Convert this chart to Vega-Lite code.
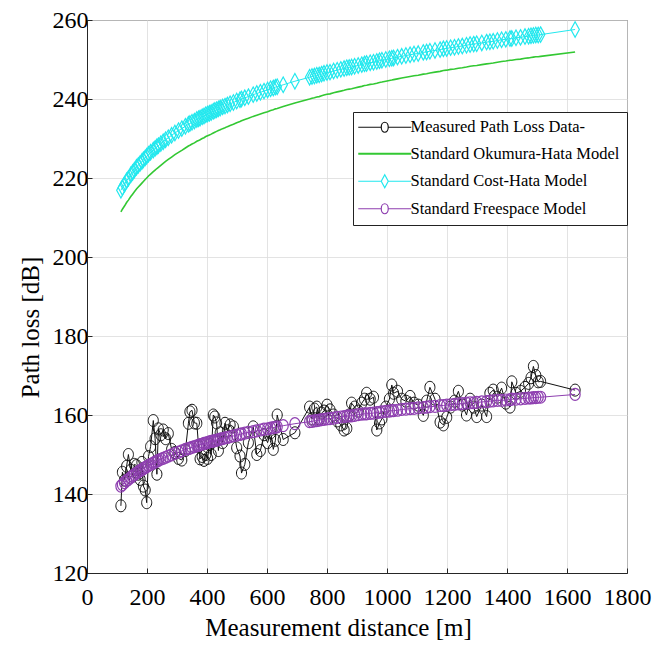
{
  "$schema": "https://vega.github.io/schema/vega-lite/v6.json",
  "width": 540,
  "height": 553,
  "autosize": {"type": "none"},
  "padding": {"left": 87, "top": 20, "right": 27, "bottom": 79},
  "background": "white",
  "config": {
    "view": {"stroke": "#262626", "strokeWidth": 1},
    "font": "Liberation Serif",
    "axis": {
      "labelFont": "Liberation Serif",
      "labelFontSize": 24,
      "labelColor": "#000000",
      "titleFont": "Liberation Serif",
      "titleFontSize": 25,
      "titleFontWeight": "normal",
      "titleColor": "#000000",
      "gridColor": "#DCDCDC",
      "gridWidth": 0.8,
      "domainColor": "#262626",
      "tickColor": "#262626",
      "tickSize": -5
    }
  },
  "data": {"values": [
    {"d":113,"m":137.0,"oh":211.4,"ch":216.9,"fs":142.0},
    {"d":118,"m":145.5,"oh":212.1,"ch":217.6,"fs":142.4},
    {"d":125,"m":143.5,"oh":212.9,"ch":218.4,"fs":142.9},
    {"d":132,"m":147.0,"oh":213.8,"ch":219.3,"fs":143.4},
    {"d":138,"m":150.0,"oh":214.4,"ch":219.9,"fs":143.7},
    {"d":146,"m":146.0,"oh":215.3,"ch":220.8,"fs":144.2},
    {"d":152,"m":144.5,"oh":215.9,"ch":221.4,"fs":144.6},
    {"d":158,"m":147.5,"oh":216.5,"ch":222.0,"fs":144.9},
    {"d":165,"m":147.2,"oh":217.2,"ch":222.7,"fs":145.3},
    {"d":171,"m":145.0,"oh":217.7,"ch":223.2,"fs":145.6},
    {"d":177,"m":143.7,"oh":218.2,"ch":223.7,"fs":145.9},
    {"d":183,"m":148.0,"oh":218.7,"ch":224.2,"fs":146.2},
    {"d":188,"m":142.0,"oh":219.1,"ch":224.6,"fs":146.4},
    {"d":194,"m":141.0,"oh":219.6,"ch":225.1,"fs":146.7},
    {"d":199,"m":137.8,"oh":220.0,"ch":225.5,"fs":146.9},
    {"d":205,"m":149.5,"oh":220.5,"ch":226.0,"fs":147.2},
    {"d":212,"m":152.0,"oh":221.0,"ch":226.5,"fs":147.5},
    {"d":221,"m":158.6,"oh":221.6,"ch":227.1,"fs":147.8},
    {"d":227,"m":154.0,"oh":222.0,"ch":227.5,"fs":148.1},
    {"d":233,"m":145.0,"oh":222.4,"ch":227.9,"fs":148.3},
    {"d":238,"m":156.5,"oh":222.7,"ch":228.2,"fs":148.5},
    {"d":246,"m":155.0,"oh":223.2,"ch":228.7,"fs":148.8},
    {"d":254,"m":156.2,"oh":223.7,"ch":229.2,"fs":149.0},
    {"d":262,"m":154.0,"oh":224.2,"ch":229.7,"fs":149.3},
    {"d":271,"m":155.3,"oh":224.7,"ch":230.2,"fs":149.6},
    {"d":282,"m":151.3,"oh":225.3,"ch":230.8,"fs":149.9},
    {"d":293,"m":150.5,"oh":225.9,"ch":231.4,"fs":150.3},
    {"d":305,"m":149.0,"oh":226.5,"ch":232.0,"fs":150.6},
    {"d":316,"m":148.6,"oh":227.0,"ch":232.5,"fs":150.9},
    {"d":328,"m":151.0,"oh":227.6,"ch":233.1,"fs":151.3},
    {"d":338,"m":157.9,"oh":228.1,"ch":233.6,"fs":151.5},
    {"d":343,"m":160.8,"oh":228.3,"ch":233.8,"fs":151.6},
    {"d":350,"m":161.2,"oh":228.6,"ch":234.1,"fs":151.8},
    {"d":358,"m":158.0,"oh":228.9,"ch":234.4,"fs":152.0},
    {"d":366,"m":157.9,"oh":229.3,"ch":234.8,"fs":152.2},
    {"d":372,"m":152.0,"oh":229.5,"ch":235.0,"fs":152.3},
    {"d":377,"m":148.9,"oh":229.7,"ch":235.2,"fs":152.5},
    {"d":384,"m":149.5,"oh":230.0,"ch":235.5,"fs":152.6},
    {"d":390,"m":148.5,"oh":230.2,"ch":235.7,"fs":152.8},
    {"d":396,"m":150.0,"oh":230.5,"ch":236.0,"fs":152.9},
    {"d":402,"m":149.0,"oh":230.7,"ch":236.2,"fs":153.0},
    {"d":408,"m":152.5,"oh":230.9,"ch":236.4,"fs":153.2},
    {"d":414,"m":150.0,"oh":231.1,"ch":236.6,"fs":153.3},
    {"d":421,"m":160.0,"oh":231.4,"ch":236.9,"fs":153.4},
    {"d":426,"m":159.5,"oh":231.6,"ch":237.1,"fs":153.5},
    {"d":432,"m":158.0,"oh":231.8,"ch":237.3,"fs":153.6},
    {"d":438,"m":151.0,"oh":232.0,"ch":237.5,"fs":153.8},
    {"d":444,"m":155.5,"oh":232.2,"ch":237.7,"fs":153.9},
    {"d":452,"m":153.0,"oh":232.5,"ch":238.0,"fs":154.0},
    {"d":460,"m":157.9,"oh":232.7,"ch":238.2,"fs":154.2},
    {"d":468,"m":156.0,"oh":233.0,"ch":238.5,"fs":154.3},
    {"d":477,"m":157.5,"oh":233.3,"ch":238.8,"fs":154.5},
    {"d":488,"m":157.0,"oh":233.6,"ch":239.1,"fs":154.7},
    {"d":499,"m":151.7,"oh":234.0,"ch":239.5,"fs":154.9},
    {"d":510,"m":149.6,"oh":234.3,"ch":239.8,"fs":155.1},
    {"d":515,"m":145.3,"oh":234.5,"ch":240.0,"fs":155.2},
    {"d":526,"m":147.5,"oh":234.8,"ch":240.3,"fs":155.4},
    {"d":538,"m":153.0,"oh":235.1,"ch":240.6,"fs":155.6},
    {"d":554,"m":157.0,"oh":235.6,"ch":241.1,"fs":155.8},
    {"d":566,"m":150.0,"oh":235.9,"ch":241.4,"fs":156.0},
    {"d":578,"m":151.0,"oh":236.2,"ch":241.7,"fs":156.2},
    {"d":590,"m":155.0,"oh":236.5,"ch":242.0,"fs":156.4},
    {"d":602,"m":153.0,"oh":236.8,"ch":242.3,"fs":156.5},
    {"d":612,"m":155.5,"oh":237.1,"ch":242.6,"fs":156.7},
    {"d":621,"m":151.3,"oh":237.3,"ch":242.8,"fs":156.8},
    {"d":628,"m":153.6,"oh":237.5,"ch":243.0,"fs":156.9},
    {"d":634,"m":160.0,"oh":237.6,"ch":243.1,"fs":157.0},
    {"d":654,"m":153.8,"oh":238.1,"ch":243.6,"fs":157.3},
    {"d":693,"m":155.5,"oh":239.0,"ch":244.5,"fs":157.8},
    {"d":742,"m":162.0,"oh":240.0,"ch":245.5,"fs":158.3},
    {"d":750,"m":159.0,"oh":240.2,"ch":245.7,"fs":158.4},
    {"d":758,"m":161.5,"oh":240.3,"ch":245.8,"fs":158.5},
    {"d":766,"m":162.0,"oh":240.5,"ch":246.0,"fs":158.6},
    {"d":774,"m":159.0,"oh":240.6,"ch":246.1,"fs":158.7},
    {"d":782,"m":160.5,"oh":240.8,"ch":246.3,"fs":158.8},
    {"d":790,"m":161.0,"oh":241.0,"ch":246.5,"fs":158.9},
    {"d":800,"m":162.5,"oh":241.2,"ch":246.7,"fs":159.0},
    {"d":810,"m":161.3,"oh":241.3,"ch":246.8,"fs":159.1},
    {"d":822,"m":160.0,"oh":241.6,"ch":247.1,"fs":159.2},
    {"d":834,"m":158.5,"oh":241.8,"ch":247.3,"fs":159.4},
    {"d":846,"m":157.5,"oh":242.0,"ch":247.5,"fs":159.5},
    {"d":857,"m":156.2,"oh":242.2,"ch":247.7,"fs":159.6},
    {"d":866,"m":156.6,"oh":242.4,"ch":247.9,"fs":159.7},
    {"d":874,"m":160.0,"oh":242.5,"ch":248.0,"fs":159.8},
    {"d":882,"m":163.0,"oh":242.6,"ch":248.1,"fs":159.8},
    {"d":892,"m":162.0,"oh":242.8,"ch":248.3,"fs":159.9},
    {"d":904,"m":161.0,"oh":243.0,"ch":248.5,"fs":160.1},
    {"d":916,"m":163.0,"oh":243.2,"ch":248.7,"fs":160.2},
    {"d":925,"m":164.0,"oh":243.4,"ch":248.9,"fs":160.3},
    {"d":932,"m":165.5,"oh":243.5,"ch":249.0,"fs":160.3},
    {"d":944,"m":164.0,"oh":243.7,"ch":249.2,"fs":160.4},
    {"d":955,"m":164.5,"oh":243.8,"ch":249.3,"fs":160.5},
    {"d":966,"m":156.2,"oh":244.0,"ch":249.5,"fs":160.6},
    {"d":975,"m":158.0,"oh":244.2,"ch":249.7,"fs":160.7},
    {"d":983,"m":159.0,"oh":244.3,"ch":249.8,"fs":160.8},
    {"d":996,"m":162.0,"oh":244.5,"ch":250.0,"fs":160.9},
    {"d":1008,"m":164.0,"oh":244.7,"ch":250.2,"fs":161.0},
    {"d":1016,"m":167.6,"oh":244.8,"ch":250.3,"fs":161.1},
    {"d":1022,"m":165.5,"oh":244.9,"ch":250.4,"fs":161.1},
    {"d":1035,"m":166.0,"oh":245.1,"ch":250.6,"fs":161.2},
    {"d":1049,"m":164.0,"oh":245.3,"ch":250.8,"fs":161.4},
    {"d":1063,"m":163.5,"oh":245.5,"ch":251.0,"fs":161.5},
    {"d":1077,"m":164.7,"oh":245.7,"ch":251.2,"fs":161.6},
    {"d":1090,"m":163.0,"oh":245.9,"ch":251.4,"fs":161.7},
    {"d":1104,"m":162.5,"oh":246.0,"ch":251.5,"fs":161.8},
    {"d":1121,"m":159.9,"oh":246.3,"ch":251.8,"fs":161.9},
    {"d":1132,"m":163.5,"oh":246.4,"ch":251.9,"fs":162.0},
    {"d":1143,"m":167.0,"oh":246.6,"ch":252.1,"fs":162.1},
    {"d":1160,"m":164.0,"oh":246.8,"ch":252.3,"fs":162.2},
    {"d":1177,"m":158.2,"oh":247.0,"ch":252.5,"fs":162.4},
    {"d":1188,"m":157.5,"oh":247.2,"ch":252.7,"fs":162.4},
    {"d":1199,"m":159.4,"oh":247.3,"ch":252.8,"fs":162.5},
    {"d":1212,"m":162.0,"oh":247.5,"ch":253.0,"fs":162.6},
    {"d":1225,"m":163.5,"oh":247.6,"ch":253.1,"fs":162.7},
    {"d":1238,"m":166.0,"oh":247.8,"ch":253.3,"fs":162.8},
    {"d":1251,"m":162.5,"oh":247.9,"ch":253.4,"fs":162.9},
    {"d":1265,"m":160.0,"oh":248.1,"ch":253.6,"fs":163.0},
    {"d":1277,"m":164.0,"oh":248.3,"ch":253.8,"fs":163.1},
    {"d":1289,"m":162.0,"oh":248.4,"ch":253.9,"fs":163.1},
    {"d":1299,"m":159.6,"oh":248.5,"ch":254.0,"fs":163.2},
    {"d":1316,"m":162.5,"oh":248.7,"ch":254.2,"fs":163.3},
    {"d":1332,"m":159.6,"oh":248.9,"ch":254.4,"fs":163.4},
    {"d":1343,"m":165.5,"oh":249.0,"ch":254.5,"fs":163.5},
    {"d":1354,"m":166.3,"oh":249.1,"ch":254.6,"fs":163.6},
    {"d":1368,"m":164.5,"oh":249.3,"ch":254.8,"fs":163.7},
    {"d":1382,"m":166.8,"oh":249.5,"ch":255.0,"fs":163.7},
    {"d":1396,"m":163.0,"oh":249.6,"ch":255.1,"fs":163.8},
    {"d":1410,"m":162.0,"oh":249.8,"ch":255.3,"fs":163.9},
    {"d":1416,"m":168.4,"oh":249.8,"ch":255.3,"fs":164.0},
    {"d":1430,"m":165.5,"oh":250.0,"ch":255.5,"fs":164.0},
    {"d":1445,"m":166.0,"oh":250.1,"ch":255.6,"fs":164.1},
    {"d":1460,"m":167.0,"oh":250.3,"ch":255.8,"fs":164.2},
    {"d":1472,"m":168.0,"oh":250.4,"ch":255.9,"fs":164.3},
    {"d":1480,"m":169.4,"oh":250.5,"ch":256.0,"fs":164.3},
    {"d":1488,"m":172.3,"oh":250.6,"ch":256.1,"fs":164.4},
    {"d":1496,"m":170.0,"oh":250.7,"ch":256.2,"fs":164.4},
    {"d":1504,"m":168.4,"oh":250.7,"ch":256.2,"fs":164.5},
    {"d":1512,"m":168.5,"oh":250.8,"ch":256.3,"fs":164.5},
    {"d":1627,"m":166.3,"oh":251.9,"ch":257.6,"fs":165.2}
  ]},
  "encoding": {
    "x": {
      "field": "d",
      "type": "quantitative",
      "scale": {"domain": [0, 1800], "nice": false},
      "axis": {
        "title": "Measurement distance [m]",
        "values": [0, 200, 400, 600, 800, 1000, 1200, 1400, 1600, 1800],
        "format": "d",
        "labelFont": "Liberation Serif",
        "labelFontSize": 24,
        "titleFont": "Liberation Serif",
        "labelPadding": 17,
        "titlePadding": 6,
        "titleX": 251,
        "labelFlush": false
      }
    }
  },
  "layer": [
    {
      "mark": {"type": "line", "strokeWidth": 1, "clip": true},
      "encoding": {
        "y": {
          "field": "m",
          "type": "quantitative",
          "title": "Path loss [dB]",
          "scale": {"domain": [120, 260], "nice": false},
          "axis": {
            "values": [120, 140, 160, 180, 200, 220, 240, 260],
            "format": "d",
            "labelFont": "Liberation Serif",
            "labelFontSize": 24,
            "titleFont": "Liberation Serif",
            "labelPadding": 4,
            "titlePadding": 9,
            "titleY": 307,
            "labelFlush": false
          }
        },
        "color": {
          "datum": "m",
          "type": "nominal",
          "scale": {
            "domain": ["m", "oh", "ch", "fs"],
            "range": ["#111111", "#33C833", "#22E8EE", "#8E3FB0"]
          },
          "legend": {
            "title": null,
            "orient": "none",
            "legendX": 266,
            "legendY": 92,
            "labelExpr": "{'m':'Measured Path Loss Data-','oh':'Standard Okumura-Hata Model','ch':'Standard Cost-Hata Model','fs':'Standard Freespace Model'}[datum.label]",
            "labelFont": "Liberation Serif",
            "labelFontSize": 16.5,
            "labelColor": "#000000",
            "labelLimit": 0,
            "labelOffset": 34,
            "strokeColor": "#222222",
            "fillColor": "#FFFFFF",
            "padding": 7,
            "rowPadding": 9.5,
            "symbolSize": 100,
            "encode": {
              "symbols": {
                "update": {
                  "shape": {"signal": "datum.value === 'oh' ? 'M-2,0L8.6,0' : datum.value === 'ch' ? 'M-2,0L2.6,0M4,0L8.6,0M3.3,-1.3L4,0L3.3,1.3L2.6,0Z' : 'M-2,0L2.6,0M4,0L8.6,0M4,0A0.7,1 0 1,1 2.6,0A0.7,1 0 1,1 4,0'"},
                  "fill": {"value": "transparent"},
                  "strokeWidth": {"signal": "datum.value === 'oh' ? 2 : 1.2"},
                  "opacity": {"value": 1}
                }
              }
            }
          }
        }
      }
    },
    {
      "mark": {"type": "point", "filled": false, "size": 576, "strokeWidth": 1, "opacity": 1, "clip": true},
      "encoding": {
        "y": {"field": "m", "type": "quantitative", "title": "Path loss [dB]"},
        "color": {"datum": "m", "type": "nominal"},
        "shape": {
          "datum": "m",
          "type": "nominal",
          "scale": {
            "domain": ["m", "ch", "fs"],
            "range": [
              "M0.42,0A0.42,0.5 0 1,1 -0.42,0A0.42,0.5 0 1,1 0.42,0",
              "M0,-0.62L0.34,0L0,0.62L-0.34,0Z",
              "M0.42,0A0.42,0.5 0 1,1 -0.42,0A0.42,0.5 0 1,1 0.42,0"
            ]
          },
          "legend": null
        }
      }
    },
    {
      "mark": {"type": "line", "strokeWidth": 1.6, "clip": true},
      "encoding": {
        "y": {"field": "oh", "type": "quantitative", "title": "Path loss [dB]"},
        "color": {"datum": "oh", "type": "nominal"}
      }
    },
    {
      "mark": {"type": "line", "strokeWidth": 1, "clip": true},
      "encoding": {
        "y": {"field": "ch", "type": "quantitative", "title": "Path loss [dB]"},
        "color": {"datum": "ch", "type": "nominal"}
      }
    },
    {
      "mark": {"type": "point", "filled": false, "size": 620, "strokeWidth": 1.2, "opacity": 1, "clip": true},
      "encoding": {
        "y": {"field": "ch", "type": "quantitative", "title": "Path loss [dB]"},
        "color": {"datum": "ch", "type": "nominal"},
        "shape": {"datum": "ch", "type": "nominal", "legend": null}
      }
    },
    {
      "mark": {"type": "line", "strokeWidth": 1, "clip": true},
      "encoding": {
        "y": {"field": "fs", "type": "quantitative", "title": "Path loss [dB]"},
        "color": {"datum": "fs", "type": "nominal"}
      }
    },
    {
      "mark": {"type": "point", "filled": false, "size": 576, "strokeWidth": 1.2, "opacity": 1, "clip": true},
      "encoding": {
        "y": {"field": "fs", "type": "quantitative", "title": "Path loss [dB]"},
        "color": {"datum": "fs", "type": "nominal"},
        "shape": {"datum": "fs", "type": "nominal", "legend": null}
      }
    }
  ]
}
